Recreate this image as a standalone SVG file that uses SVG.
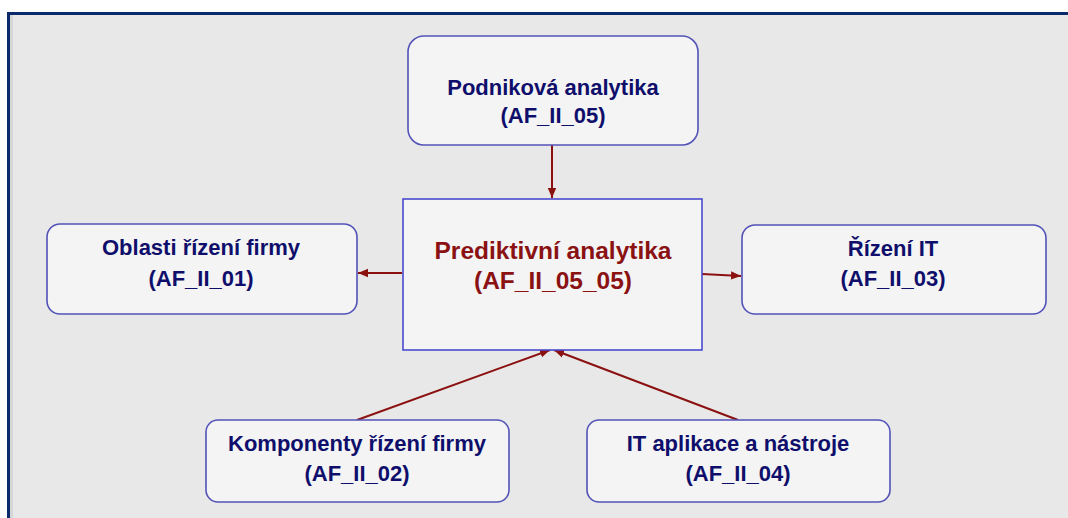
<svg xmlns="http://www.w3.org/2000/svg" width="1068" height="518" viewBox="0 0 1068 518">
  <style>
    .box { fill: #f4f4f5; stroke: #5252b8; stroke-width: 1.6; }
    .core { fill: #f4f4f5; stroke: #4a4ad0; stroke-width: 1.6; }
    .lbl { font-family: "Liberation Sans", Arial, sans-serif; font-weight: bold; font-size: 22px; fill: #0f0f6b; text-anchor: middle; }
    .lbl-core { font-family: "Liberation Sans", Arial, sans-serif; font-weight: bold; font-size: 24.5px; fill: #8a1212; text-anchor: middle; }
    .link { stroke: #8b1111; stroke-width: 2; fill: none; marker-end: url(#head); }
  </style>
  <defs>
    <marker id="head" markerUnits="userSpaceOnUse" markerWidth="12" markerHeight="10" refX="10" refY="5" orient="auto">
      <path d="M0,0.8 L10,5 L0,9.2 Z" fill="#8b1111"/>
    </marker>
  </defs>

  <!-- page and frame -->
  <rect x="0" y="0" width="1068" height="518" fill="#ffffff"/>
  <rect x="8.5" y="13.5" width="1070" height="520" fill="#e8e8e8" stroke="#0b2a6b" stroke-width="3"/>
  <rect x="10" y="15" width="3" height="510" fill="#d6d6d6"/>

  <!-- connectors -->
  <g id="connectors">
    <line class="link" x1="552" y1="145" x2="552" y2="198"/>
    <line class="link" x1="402" y1="273" x2="358" y2="273"/>
    <line class="link" x1="702" y1="274" x2="741" y2="276"/>
    <line class="link" x1="357" y1="420" x2="550" y2="350"/>
    <line class="link" x1="738" y1="420" x2="554" y2="350"/>
  </g>

  <g id="node-podnikova">
    <rect class="box" x="408" y="36" width="290" height="109" rx="16"/>
    <text class="lbl" x="553" y="95">Podniková analytika</text>
    <text class="lbl" x="553" y="123">(AF_II_05)</text>
  </g>

  <g id="node-prediktivni">
    <rect class="core" x="403" y="199" width="299" height="151"/>
    <text class="lbl-core" x="553" y="259">Prediktivní analytika</text>
    <text class="lbl-core" x="553" y="289">(AF_II_05_05)</text>
  </g>

  <g id="node-oblasti">
    <rect class="box" x="47" y="224" width="310" height="90" rx="13"/>
    <text class="lbl" x="201" y="255">Oblasti řízení firmy</text>
    <text class="lbl" x="201" y="286">(AF_II_01)</text>
  </g>

  <g id="node-rizeni-it">
    <rect class="box" x="742" y="225" width="304" height="89" rx="13"/>
    <text class="lbl" x="893" y="256">Řízení IT</text>
    <text class="lbl" x="893" y="286">(AF_II_03)</text>
  </g>

  <g id="node-komponenty">
    <rect class="box" x="206" y="420" width="303" height="82" rx="12"/>
    <text class="lbl" x="357" y="451">Komponenty řízení firmy</text>
    <text class="lbl" x="357" y="481">(AF_II_02)</text>
  </g>

  <g id="node-it-aplikace">
    <rect class="box" x="587" y="420" width="303" height="82" rx="12"/>
    <text class="lbl" x="738" y="451">IT aplikace a nástroje</text>
    <text class="lbl" x="738" y="481">(AF_II_04)</text>
  </g>
</svg>
